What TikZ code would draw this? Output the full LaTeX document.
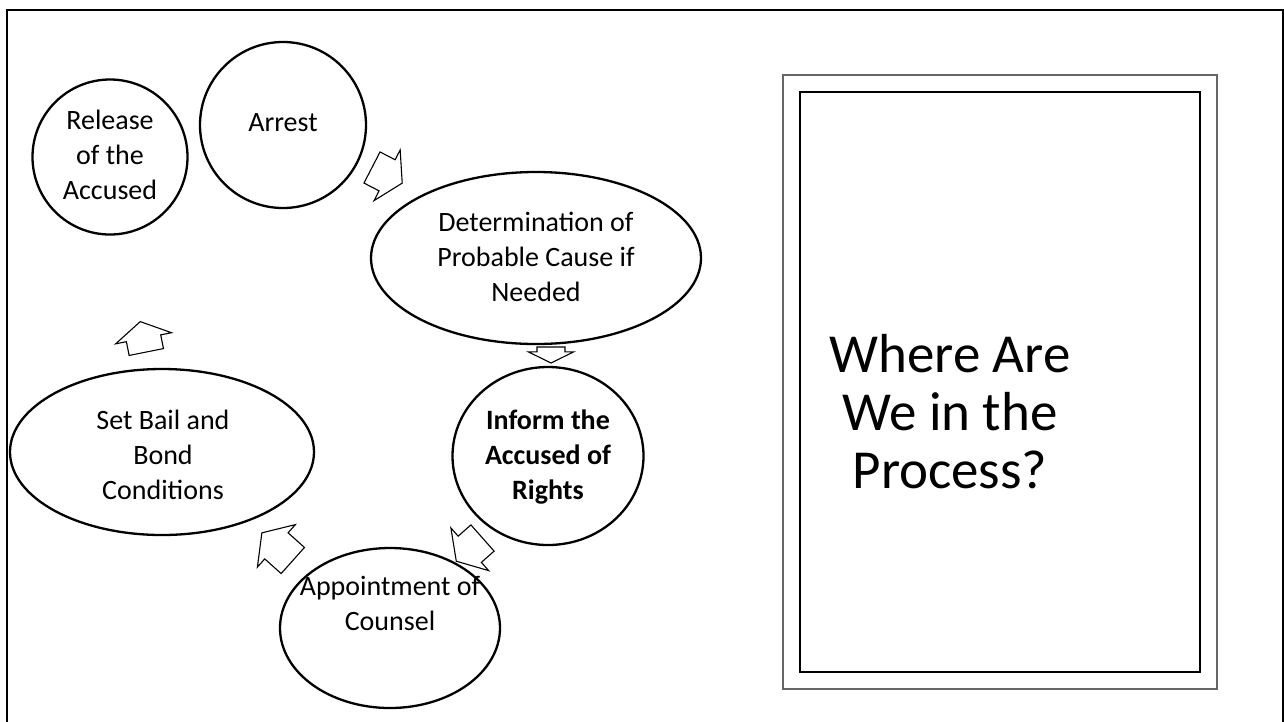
\documentclass[tikz,border=0pt]{standalone}
\usepackage{fontspec}
\setmainfont{Carlito}
\usetikzlibrary{shapes.geometric}
\begin{document}
\begin{tikzpicture}[x=1pt,y=-1pt,
  stage/.style={draw=black, line width=2.3pt, ellipse, inner sep=0pt},
  txt/.style={align=center, font=\fontsize{28}{35}\selectfont, inner sep=0pt},
  cyc/.style={draw=black, line width=1.1pt, fill=white, line join=miter},
  pics/cyclearrow/.style args={#1/#2}{code={
    \draw[cyc] (0,17.5) -- (#1,17.5) -- (#1,28.5) -- (#1+#2,0) -- (#1,-28.5) -- (#1,-17.5) -- (0,-17.5) -- cycle;
  }}
]
\useasboundingbox (0,0) rectangle (1284,721);
\clip (0,0) rectangle (1284,721);
% slide border
\draw[line width=2.5pt] (7,10) rectangle (1283,740);

% stages
\node[stage, circle, minimum size=166pt] (arrest) at (283,125) {};
\node[txt] (arrestT) at (283,123) {Arrest};

\node[stage, minimum width=330pt, minimum height=172pt] (det) at (536,258) {};
\node[txt] (detT) at (536,257) {Determination of\\Probable Cause if\\Needed};

\node[stage, minimum width=191pt, minimum height=178pt] (inform) at (548,456) {};
\node[txt, font=\fontsize{28}{35}\selectfont\bfseries] (informT) at (548,457) {Inform the\\Accused of\\Rights};

\node[stage, minimum width=220pt, minimum height=160pt] (appt) at (390,628) {};
\node[txt] (apptT) at (390,603) {Appointment of\\Counsel};

\node[stage, minimum width=304pt, minimum height=166pt] (bail) at (162,452) {};
\node[txt] (bailT) at (163,455) {Set Bail and\\Bond\\Conditions};

\node[stage, circle, minimum size=155pt] (release) at (110,157) {};
\node[txt] (releaseT) at (110,155) {Release\\of the\\Accused};

% cycle arrows
\pic[shift={(372,167.5)}, rotate=-27.3] {cyclearrow={17/17}};
\pic[shift={(551,347)}, rotate=-90, scale=0.8] {cyclearrow={6/14}};
\pic[shift={(482.5,538)}, rotate=-138.5] {cyclearrow={17/18}};
\pic[shift={(292.8,560.5)}, rotate=138.2] {cyclearrow={22/19.5}};
\pic[shift={(146.3,352)}, rotate=101.3] {cyclearrow={14/17}};

% title frame
\draw[line width=1.5pt, draw=black!60] (783,75) rectangle (1217,689);
\draw[line width=1.3pt, draw=black] (800,92) rectangle (1200,672);
\node[align=center, font=\fontsize{55}{58}\selectfont, inner sep=0pt] (title) at (950,412) {Where Are\\We in the\\Process?};
\end{tikzpicture}
\end{document}
